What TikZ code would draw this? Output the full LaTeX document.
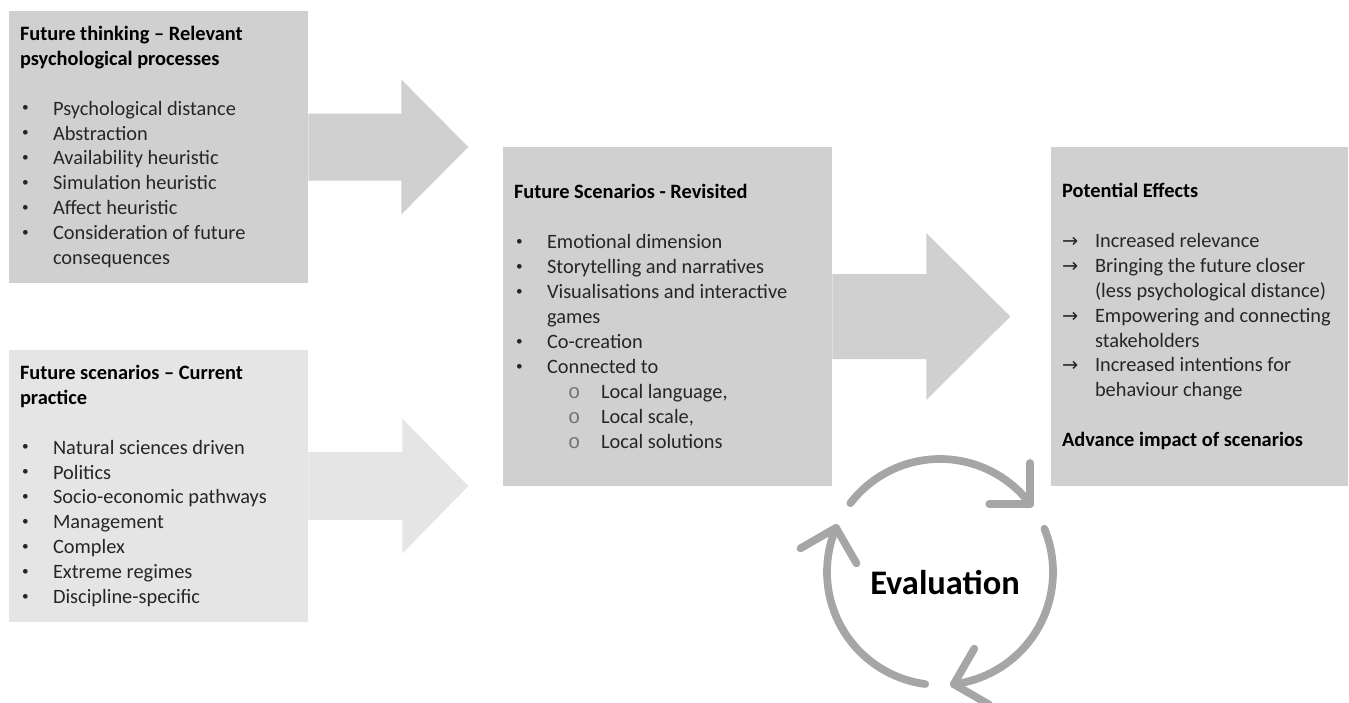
\documentclass[tikz,border=0pt]{standalone}
\usepackage{fontspec}
\setmainfont{Carlito}
\newfontfamily\symfont{DejaVu Sans}
\newfontfamily\monofont{Liberation Mono}
\usetikzlibrary{calc,positioning}

\definecolor{panelgray}{HTML}{D0D0D0}
\definecolor{panellight}{HTML}{E5E5E5}
\definecolor{cyclegray}{HTML}{A6A6A6}
\definecolor{bodytext}{HTML}{262626}

\newcommand{\bul}[1]{\makebox[0.66cm][l]{\hspace{0.04cm}\raisebox{0.35ex}{\scalebox{0.65}{\textbullet}}}#1}
\newcommand{\cont}[1]{\hspace*{0.66cm}#1}
\newcommand{\subbul}[1]{\hspace*{1.08cm}\makebox[0.66cm][l]{\monofont\color{black!55}o}#1}
\newcommand{\arrbul}[1]{\makebox[0.66cm][l]{\symfont\fontsize{11}{12}\selectfont →}#1}

\tikzset{
  panel/.style={rectangle, inner sep=0pt, draw=none},
  paneltext/.style={anchor=west, align=left, inner sep=0pt, text=bodytext,
    font=\fontsize{11.6}{14.2}\selectfont},
  evalarc/.style={draw=cyclegray, line width=4.4pt, line cap=round, line join=round}
}

\begin{document}
\begin{tikzpicture}[x=0.02cm, y=-0.02cm]
  \useasboundingbox (0,0) rectangle (1349,703);

  % boxes
  \node[panel, fill=panelgray, minimum width=5.98cm, minimum height=5.44cm] (think) at (158.5,147) {};
  \node[panel, fill=panellight, minimum width=5.98cm, minimum height=5.44cm] (current) at (158.5,486) {};
  \node[panel, fill=panelgray, minimum width=6.58cm, minimum height=6.78cm] (revisit) at (667.5,316.5) {};
  \node[panel, fill=panelgray, minimum width=5.94cm, minimum height=6.78cm] (effects) at (1199.5,316.5) {};

  % block arrows
  \fill[panelgray] (think.east) ++(0,-33.5) -- ++(93,0) -- ++(0,-34) -- ++(67,67.5)
    -- ++(-67,67.5) -- ++(0,-34) -- ++(-93,0) -- cycle;
  \fill[panellight] (current.east) ++(0,-34) -- ++(94,0) -- ++(0,-33.5) -- ++(66,67.5)
    -- ++(-66,67.5) -- ++(0,-33.5) -- ++(-94,0) -- cycle;
  \fill[panelgray] (revisit.east) ++(0,-42.5) -- ++(94,0) -- ++(0,-41) -- ++(84,83.5)
    -- ++(-84,83.5) -- ++(0,-41) -- ++(-94,0) -- cycle;

  % texts
  \node[paneltext] (thinktext) at ([xshift=0.22cm]think.west) {%
    \textcolor{black}{\textbf{Future thinking – Relevant}}\\
    \textcolor{black}{\textbf{psychological processes}}\\[14.2pt]
    \bul{Psychological distance}\\
    \bul{Abstraction}\\
    \bul{Availability heuristic}\\
    \bul{Simulation heuristic}\\
    \bul{Affect heuristic}\\
    \bul{Consideration of future}\\
    \cont{consequences}};
  \node[paneltext] (currenttext) at ([xshift=0.22cm]current.west) {%
    \textcolor{black}{\textbf{Future scenarios – Current}}\\
    \textcolor{black}{\textbf{practice}}\\[14.2pt]
    \bul{Natural sciences driven}\\
    \bul{Politics}\\
    \bul{Socio-economic pathways}\\
    \bul{Management}\\
    \bul{Complex}\\
    \bul{Extreme regimes}\\
    \bul{Discipline-specific}};
  \node[paneltext] (revisittext) at ([xshift=0.22cm]revisit.west) {%
    \textcolor{black}{\textbf{Future Scenarios - Revisited}}\\[14.2pt]
    \bul{Emotional dimension}\\
    \bul{Storytelling and narratives}\\
    \bul{Visualisations and interactive}\\
    \cont{games}\\
    \bul{Co-creation}\\
    \bul{Connected to}\\
    \subbul{Local language,}\\
    \subbul{Local scale,}\\
    \subbul{Local solutions}};
  \node[paneltext] (effectstext) at ([xshift=0.22cm]effects.west) {%
    \textcolor{black}{\textbf{Potential Effects}}\\[14.2pt]
    \arrbul{Increased relevance}\\
    \arrbul{Bringing the future closer}\\
    \cont{(less psychological distance)}\\
    \arrbul{Empowering and connecting}\\
    \cont{stakeholders}\\
    \arrbul{Increased intentions for}\\
    \cont{behaviour change}\\[14.2pt]
    \textcolor{black}{\textbf{Advance impact of scenarios}}};

  % evaluation cycle
  \node[font=\fontsize{19.6}{22}\selectfont\bfseries] (eval) at (945,583) {Evaluation};
  \coordinate (cyc) at (940,572);
  \foreach \a in {-142.5,-22.5,97.5}{
    \pgfmathsetmacro{\e}{\a+105.5}
    \draw[evalarc] (cyc) ++(\a:113) arc[start angle=\a, end angle=\e, radius=113] coordinate (tip);
    \draw[evalarc] ($(tip)+(\e-143:41)$) -- (tip) -- ($(tip)+(\e-53:41)$);
  }
\end{tikzpicture}
\end{document}
